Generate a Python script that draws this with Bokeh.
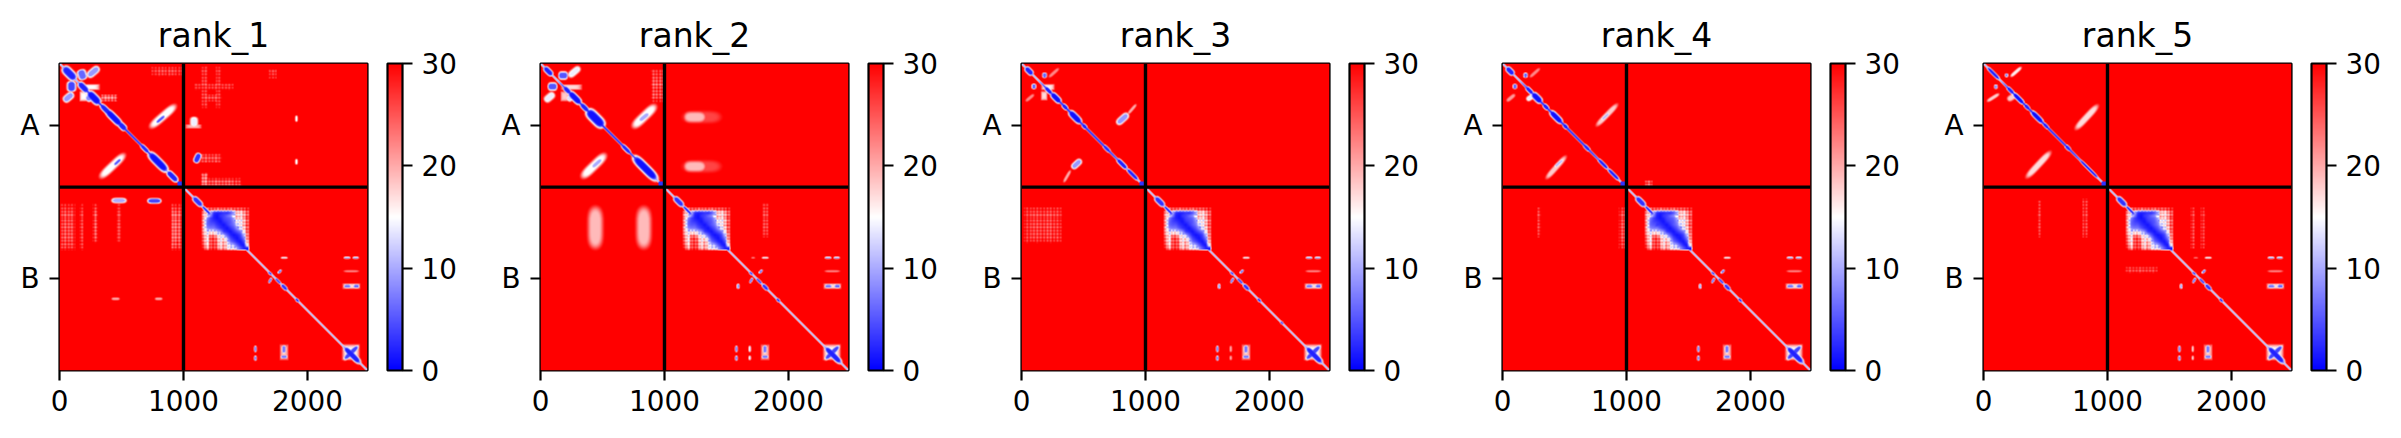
import numpy as np
from bokeh.embed import file_html
from bokeh.layouts import row
from bokeh.models import ColorBar, FixedTicker, LinearColorMapper, Range1d, Span
from bokeh.plotting import figure
from bokeh.resources import INLINE

# The matrices are not available: what follows are regions,
# in residue numbers, from which each predicted-error map is rebuilt.
TITLES = ["rank_1", "rank_2", "rank_3", "rank_4", "rank_5"]
CHAIN_LABELS = ["A", "B"]
CHAIN_LENGTHS = [1000, 1484]
X_TICKS = [0, 1000, 2000]
CBAR_TICKS = [0, 10, 20, 30]
VMIN, VMAX = 0, 30

# domain of chain B, read as a table of cells
DOMAIN_X0, DOMAIN_Y0, DOMAIN_STEP = 1150, 1160, 27
DOMAIN = [
    [29, 27, 26, 27, 26, 27, 26, 27, 26, 27, 26, 27, 28, 29],
    [21, 19, 12,  3,  2,  2,  3,  2,  4,  8, 20, 17, 22, 25],
    [19, 15,  8,  2,  1,  3,  4,  6,  8, 13, 20, 17, 21, 25],
    [19,  8,  4,  2,  1,  2,  4,  5,  6, 10, 18, 15, 20, 25],
    [20,  6,  4,  3,  2,  1,  3,  4,  5,  8, 16, 15, 20, 25],
    [20,  6,  5,  5,  3,  2,  1,  3,  5,  7, 12, 15, 20, 25],
    [19,  8,  7,  7,  5,  3,  2,  1,  3,  5,  9, 14, 19, 25],
    [20, 13, 14, 14, 11,  8,  3,  2,  1,  3,  5,  7, 16, 25],
    [21, 15, 21, 21, 16, 14,  9,  5,  2,  1,  2,  4, 11, 23],
    [23, 15, 26, 26, 22, 15, 17,  9,  4,  2,  1,  3,  7, 23],
    [24, 16, 26, 27, 24, 16, 21, 14,  6,  4,  2,  1,  4, 21],
    [25, 17, 26, 27, 24, 16, 22, 16, 12,  9,  5,  2,  1, 17],
    [27, 20, 26, 27, 25, 18, 22, 16, 14, 14,  9,  5,  2,  1],
]
# fine plaid on the pale parts, per column and per row of half cells
PLAID_COLS = [2, -2, 2, -3, 3, -2, 2, -2, 3, -3, 2, -2, 2, -2, 3, -2, 2, -3, 2, -2, 3, -2, 2, -2, 2, -3, 2, -2]
PLAID_ROWS = [-2, 2, -2, 2, -3, 2, -2, 3, -2, 2, -2, 2, -3, 2, -2, 2, -2, 3, -2, 2, -3, 2, -2, 2, -2, 2]

# lens regions: x1, y1, x2, y2, half width, lowest value
COMMON_LENS = [
    (80, 80, 870, 870, 9, 2),
    (1078, 1078, 1150, 1150, 22, 3), (1150, 1150, 1220, 1220, 12, 3),
    (1685, 1690, 1712, 1712, 10, 4), (1762, 1700, 1790, 1672, 9, 6),
    (1688, 1778, 1710, 1738, 9, 6), (1740, 1740, 1785, 1785, 10, 4),
    (1790, 1790, 1835, 1835, 15, 3), (1905, 1905, 1930, 1930, 11, 3),
    (2293, 1575, 2345, 1575, 8, 9), (2365, 1575, 2414, 1575, 8, 9),
    (1785, 1575, 1840, 1575, 7, 14),
    (2293, 1804, 2350, 1804, 14, 7), (2370, 1804, 2418, 1804, 14, 6),
    (2293, 1683, 2414, 1683, 8, 22),
    (2295, 2295, 2425, 2425, 24, 2), (2295, 2395, 2410, 2285, 20, 4),
    (1580, 2285, 1580, 2335, 10, 8), (1580, 2365, 1580, 2405, 10, 8),
    (1810, 2280, 1810, 2345, 15, 7), (1785, 2374, 1838, 2374, 13, 7),
]
# soft rectangles: x0, x1, y0, y1, value
COMMON_RECTS = [
    (2275, 2425, 2268, 2405, 15), (2278, 2430, 1780, 1828, 17),
    (1775, 1848, 2270, 2405, 19),
]

RANK_1_LENS = [
    (30, 30, 130, 130, 34, 2), (155, 155, 230, 230, 26, 2), (230, 230, 325, 325, 32, 1),
    (330, 330, 430, 430, 22, 2), (376, 376, 500, 500, 28, 1), (480, 480, 535, 535, 24, 2),
    (655, 655, 720, 720, 17, 3), (720, 720, 870, 870, 32, 1), (870, 870, 950, 950, 24, 2),
    (170, 55, 195, 125, 34, 6), (228, 105, 317, 30, 28, 9), (97, 155, 97, 215, 34, 4),
    (35, 304, 110, 240, 28, 9), (215, 295, 275, 250, 28, 8),
    (734, 513, 935, 339, 30, 15), (780, 480, 850, 420, 13, 5),
    (331, 917, 524, 734, 30, 15), (440, 820, 495, 770, 12, 5),
    (1085, 430, 1085, 510, 30, 14), (1095, 800, 1130, 725, 24, 3),
    (1911, 420, 1911, 470, 10, 15), (1911, 770, 1911, 815, 10, 15),
    (420, 1105, 540, 1105, 20, 10), (710, 1108, 820, 1108, 20, 4),
    (420, 1906, 485, 1906, 10, 20), (770, 1906, 830, 1906, 10, 20),
]
RANK_1_RECTS = [
    (170, 330, 165, 215, 15), (160, 230, 221, 308, 15), (330, 470, 250, 306, 23),
    (1140, 1188, 20, 360, 28), (1262, 1303, 20, 360, 28), (1090, 1410, 167, 214, 28),
    (1140, 1310, 250, 306, 27), (1140, 1200, 880, 990, 23), (1140, 1470, 925, 990, 26),
    (1110, 1310, 730, 800, 27), (10, 125, 1135, 1518, 26), (160, 195, 1135, 1518, 27),
    (268, 310, 1135, 1460, 26), (460, 500, 1135, 1460, 27), (899, 986, 1135, 1518, 24),
    (740, 1000, 30, 110, 28), (1010, 1150, 490, 525, 19), (1690, 1750, 50, 120, 28),
]
RANK_2_LENS = [
    (30, 30, 95, 95, 22, 2), (190, 190, 240, 240, 20, 2), (230, 230, 325, 325, 27, 1),
    (325, 325, 385, 385, 20, 2), (376, 376, 510, 510, 40, 1), (655, 655, 725, 725, 17, 3),
    (750, 750, 940, 940, 34, 1),
    (180, 97, 185, 97, 30, 5), (228, 105, 317, 30, 26, 14), (97, 186, 97, 186, 30, 5),
    (35, 304, 110, 240, 28, 14), (215, 295, 275, 250, 26, 13),
    (747, 513, 928, 339, 34, 15), (795, 465, 875, 400, 20, 10),
    (336, 917, 524, 734, 34, 15), (415, 840, 495, 770, 18, 10),
    (1150, 432, 1452, 432, 44, 26), (1160, 432, 1330, 432, 40, 19),
    (1150, 830, 1452, 830, 44, 26), (1160, 830, 1330, 830, 40, 19),
    (443, 1160, 443, 1495, 55, 19), (833, 1160, 833, 1495, 55, 19),
    (1594, 1785, 1594, 1825, 11, 8), (1688, 2285, 1688, 2335, 9, 13), (1688, 2365, 1688, 2400, 9, 13),
    (1700, 1575, 1730, 1575, 6, 22),
]
RANK_2_RECTS = [
    (160, 340, 167, 214, 17), (160, 230, 221, 308, 18), (890, 1000, 50, 310, 26),
    (1790, 1840, 1120, 1410, 27),
]
RANK_3_LENS = [
    (32, 32, 90, 90, 22, 2), (190, 190, 245, 245, 17, 2), (240, 240, 315, 315, 24, 1),
    (330, 330, 370, 370, 17, 2), (385, 385, 480, 480, 26, 1), (490, 490, 525, 525, 16, 2),
    (660, 660, 715, 715, 15, 3), (770, 770, 850, 850, 18, 2), (850, 850, 940, 940, 15, 2),
    (186, 75, 186, 115, 17, 6), (222, 110, 300, 40, 12, 22), (100, 165, 100, 205, 17, 6),
    (35, 304, 100, 250, 12, 22),
    (771, 487, 860, 406, 26, 9), (860, 406, 925, 330, 11, 20),
    (408, 844, 481, 777, 24, 9), (341, 957, 395, 863, 11, 20),
    (1594, 1785, 1594, 1825, 10, 8), (1688, 2285, 1688, 2335, 9, 20), (1688, 2365, 1688, 2400, 9, 20),
    (2090, 2090, 2110, 2110, 10, 5),
]
RANK_3_RECTS = [
    (155, 270, 165, 215, 16), (155, 210, 220, 300, 17), (20, 330, 1150, 1460, 27),
]
RANK_4_LENS = [
    (32, 32, 90, 90, 22, 2), (190, 190, 245, 245, 17, 2), (240, 240, 315, 315, 26, 1),
    (330, 330, 370, 370, 17, 2), (385, 385, 480, 480, 24, 1), (490, 490, 525, 525, 16, 2),
    (655, 655, 705, 705, 15, 3), (770, 770, 850, 850, 14, 2), (850, 850, 940, 940, 14, 2),
    (186, 80, 186, 110, 16, 6), (222, 110, 300, 40, 12, 22), (100, 165, 100, 205, 16, 6),
    (35, 304, 100, 250, 14, 21), (195, 295, 260, 250, 20, 14),
    (760, 500, 925, 330, 20, 18), (800, 455, 860, 400, 12, 11),
    (355, 925, 510, 750, 20, 18), (420, 835, 490, 775, 12, 11),
    (1594, 1785, 1594, 1825, 10, 9),
]
RANK_4_RECTS = [
    (940, 995, 1150, 1510, 26), (275, 310, 1150, 1410, 28), (1150, 1210, 940, 1005, 26),
    (1190, 1360, 1235, 1350, 3),
]
RANK_5_LENS = [
    (30, 30, 130, 130, 14, 2), (190, 190, 245, 245, 15, 2), (240, 240, 325, 325, 18, 1),
    (330, 330, 370, 370, 15, 2), (385, 385, 480, 480, 20, 1), (480, 480, 525, 525, 14, 2),
    (660, 660, 700, 700, 15, 3), (770, 770, 930, 930, 11, 2),
    (186, 85, 186, 105, 12, 8), (220, 105, 305, 30, 13, 16), (100, 170, 100, 205, 13, 8),
    (30, 305, 125, 245, 13, 18), (195, 295, 270, 245, 22, 18),
    (745, 527, 920, 339, 24, 17), (349, 917, 538, 715, 24, 17),
    (1594, 1785, 1594, 1825, 10, 9), (1688, 2285, 1688, 2335, 8, 17), (1688, 2365, 1688, 2400, 8, 17),
    (1695, 1575, 1730, 1575, 5, 22),
]
RANK_5_RECTS = [
    (430, 465, 1100, 1410, 28), (800, 845, 1090, 1410, 28),
    (1670, 1710, 1150, 1510, 28), (1750, 1795, 1150, 1510, 28),
    (1140, 1410, 1650, 1700, 28),
]
RANK_LENS = [RANK_1_LENS, RANK_2_LENS, RANK_3_LENS, RANK_4_LENS, RANK_5_LENS]
RANK_RECTS = [RANK_1_RECTS, RANK_2_RECTS, RANK_3_RECTS, RANK_4_RECTS, RANK_5_RECTS]

# layout of the page, in pixels
FRAME_W, FRAME_H = 308, 307
CELL_W = 481
LEFT, TOP = 59, 63
BOTTOM = 60
WIDEN = 1.5


def rebuild(lens, rects):
    total = sum(CHAIN_LENGTHS)
    n = FRAME_W * 2
    centres = (np.arange(n) + 0.5) * total / n
    X, Y = np.meshgrid(centres, centres)
    z = np.full((n, n), float(VMAX), dtype=float)

    def soft(r, v):
        t = np.clip((r - 0.35) / 0.65, 0, 1)
        return v + (VMAX - v) * t * t * (3 - 2 * t)

    pc = np.array(PLAID_COLS, dtype=float)
    pr = np.array(PLAID_ROWS, dtype=float)
    half_cell = DOMAIN_STEP / 2

    # the diagonal
    z = np.minimum(z, soft(np.abs(X - Y) / np.sqrt(2) / 10.0, 8))
    # domain table, bilinear
    grid = np.array(DOMAIN, dtype=float)
    gx = np.clip((X - DOMAIN_X0) / DOMAIN_STEP - 0.5, 0, grid.shape[1] - 1.001)
    gy = np.clip((Y - DOMAIN_Y0) / DOMAIN_STEP - 0.5, 0, grid.shape[0] - 1.001)
    ix, iy = gx.astype(int), gy.astype(int)
    fx, fy = gx - ix, gy - iy
    d = (grid[iy, ix] * (1 - fx) * (1 - fy) + grid[iy, ix + 1] * fx * (1 - fy)
         + grid[iy + 1, ix] * (1 - fx) * fy + grid[iy + 1, ix + 1] * fx * fy)
    jx = np.clip(((X - DOMAIN_X0) / half_cell).astype(int), 0, len(pc) - 1)
    jy = np.clip(((Y - DOMAIN_Y0) / half_cell).astype(int), 0, len(pr) - 1)
    d = np.where(d > 10, np.clip(d + pc[jx] + pr[jy], 0, VMAX), d)
    inside = (X >= DOMAIN_X0) & (X < DOMAIN_X0 + grid.shape[1] * DOMAIN_STEP) \
        & (Y >= DOMAIN_Y0) & (Y < DOMAIN_Y0 + grid.shape[0] * DOMAIN_STEP)
    z = np.where(inside, np.minimum(z, d), z)
    # end of chain A
    z = np.minimum(z, np.where((X > 950) & (X < 995) & (Y > 950) & (Y < 995), 3.0, VMAX))
    for (x1, y1, x2, y2, w, v) in COMMON_LENS + lens:
        w = w * WIDEN
        cx, cy = (x1 + x2) / 2, (y1 + y2) / 2
        half = max(np.hypot(x2 - x1, y2 - y1) / 2 * 1.2, w)
        ang = np.arctan2(y2 - y1, x2 - x1)
        along = (X - cx) * np.cos(ang) + (Y - cy) * np.sin(ang)
        across = -(X - cx) * np.sin(ang) + (Y - cy) * np.cos(ang)
        z = np.minimum(z, soft(np.sqrt((along / half) ** 4 + (across / w) ** 2), v))
    kx = (X / half_cell).astype(int) % len(pc)
    ky = (Y / half_cell).astype(int) % len(pr)
    for (x0, x1, y0, y1, v) in COMMON_RECTS + rects:
        hx, hy = (x1 - x0) / 2, (y1 - y0) / 2
        r = np.maximum(np.abs(X - (x0 + x1) / 2) / hx, np.abs(Y - (y0 + y1) / 2) / hy)
        val = v + (VMAX - v) * np.clip(r, 0, 1) ** 4
        if v >= 20:
            val = np.where(r < 1, np.clip(val + pc[kx] + pr[ky], 0, VMAX), val)
        z = np.minimum(z, val)
    # down to one value per pixel, as in the picture
    z = z.reshape(n // 2, 2, n // 2, 2).mean(axis=(1, 3))
    return z.astype(np.float32)


palette = []
for i in range(256):
    f = i / 255
    if f < 0.5:
        c = int(round(f * 2 * 255))
        palette.append("#%02x%02xff" % (c, c))
    else:
        c = int(round((1 - f) * 2 * 255))
        palette.append("#ff%02x%02x" % (c, c))

total = sum(CHAIN_LENGTHS)
boundary = CHAIN_LENGTHS[0]
mids = [CHAIN_LENGTHS[0] / 2, CHAIN_LENGTHS[0] + CHAIN_LENGTHS[1] / 2]
figs = []
for k, title in enumerate(TITLES):
    mapper = LinearColorMapper(palette=palette, low=VMIN, high=VMAX)
    right = CELL_W - LEFT - FRAME_W if k < len(TITLES) - 1 else 2400 - 4 * CELL_W - LEFT - FRAME_W
    p = figure(title=title, frame_width=FRAME_W, frame_height=FRAME_H,
               x_range=Range1d(0, total), y_range=Range1d(total, 0),
               output_backend="svg", toolbar_location=None, tools="",
               min_border_left=LEFT, min_border_right=right, min_border_top=TOP, min_border_bottom=BOTTOM,
               background_fill_color="white", border_fill_color="white")
    z = rebuild(RANK_LENS[k], RANK_RECTS[k])
    p.image(image=[z], x=0, y=0, dw=total, dh=total, color_mapper=mapper)
    p.add_layout(Span(location=boundary, dimension="height", line_color="black", line_width=3.4))
    p.add_layout(Span(location=boundary, dimension="width", line_color="black", line_width=3.4))
    p.grid.visible = False
    p.outline_line_color = "black"
    p.outline_line_width = 2.2
    p.title.align = "center"
    p.title.text_font = "DejaVu Sans"
    p.title.text_font_size = "33px"
    p.title.text_font_style = "normal"
    p.title.text_color = "black"
    p.title.standoff = 18
    p.xaxis.ticker = FixedTicker(ticks=X_TICKS)
    p.yaxis.ticker = FixedTicker(ticks=mids)
    p.yaxis.major_label_overrides = {mids[i]: CHAIN_LABELS[i] for i in range(2)}
    p.yaxis.major_label_orientation = "horizontal"
    for ax in (p.xaxis[0], p.yaxis[0]):
        ax.axis_line_color = None
        ax.major_tick_in = 0
        ax.major_tick_out = 10
        ax.major_tick_line_color = "black"
        ax.major_tick_line_width = 2.2
        ax.minor_tick_line_color = None
        ax.major_label_text_font = "DejaVu Sans"
        ax.major_label_text_font_size = "27.8px"
        ax.major_label_text_color = "black"
        ax.major_label_standoff = 9
    p.yaxis.major_label_standoff = 10
    cb = ColorBar(color_mapper=mapper, width=15, height=FRAME_H, padding=0, margin=0,
                  location=(FRAME_W + 20, 0),
                  ticker=FixedTicker(ticks=CBAR_TICKS), major_tick_in=0, major_tick_out=10,
                  major_tick_line_color="black", major_tick_line_width=2.2,
                  minor_tick_line_color=None, bar_line_color="black", bar_line_width=2.2,
                  major_label_text_font="DejaVu Sans", major_label_text_font_size="27.8px",
                  major_label_text_color="black", label_standoff=9,
                  background_fill_color=None, border_line_color=None)
    p.add_layout(cb)
    figs.append(p)

page = row(*figs, spacing=0)
open("out.html", "w").write(file_html(page, INLINE))
